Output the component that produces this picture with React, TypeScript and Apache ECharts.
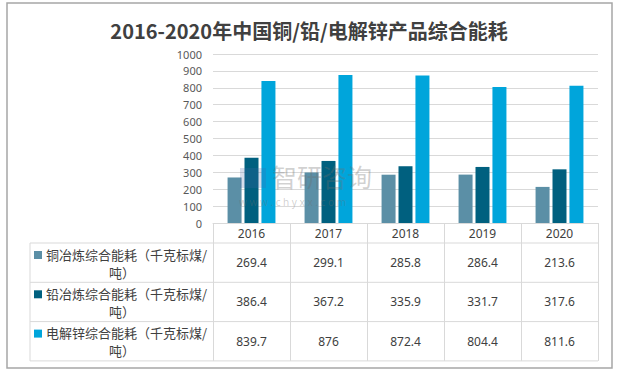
import React, { useEffect, useRef } from "react";
import * as echarts from "echarts";

const titleText = "2016-2020年中国铜/铅/电解锌产品综合能耗";
const categories = ["2016", "2017", "2018", "2019", "2020"];
const seriesNames = [
  "铜冶炼综合能耗（千克标煤/吨）",
  "铅冶炼综合能耗（千克标煤/吨）",
  "电解锌综合能耗（千克标煤/吨）",
];
const copperValues = [269.4, 299.1, 285.8, 286.4, 213.6];
const leadValues = [386.4, 367.2, 335.9, 331.7, 317.6];
const zincValues = [839.7, 876, 872.4, 804.4, 811.6];
const colors = ["#5B8FA6", "#00607F", "#00A5DB"];

const allValues = [copperValues, leadValues, zincValues];

export default function App() {
  const ref = useRef<HTMLDivElement>(null);
  useEffect(() => {
    if (!ref.current) return;
    const chart = echarts.init(ref.current, null, { renderer: "svg" });
    const gridTop = 54;
    const gridBottom = 148;
    const gridLeft = 213;
    const gridRight = 20;
    const H = 371;
    const axisY = H - gridBottom;
    const headerH = 20;
    const rowH = 39.3;
    const tableLeft = 30;
    const tableRight = 618 - gridRight;
    const lineColor = "#D9D9D9";
    const cjk = "Noto Sans CJK SC";
    const latin = "Noto Sans";

    chart.setOption({
      animation: false,
      title: {
        text: titleText,
        left: "center",
        top: 15,
        textStyle: {
          fontSize: 20,
          fontWeight: "bold",
          color: "#404040",
          fontFamily: cjk,
        },
      },
      grid: { top: gridTop, bottom: gridBottom, left: gridLeft, right: gridRight },
      xAxis: {
        type: "category",
        data: categories,
        axisLine: { lineStyle: { color: lineColor } },
        axisTick: {
          show: true,
          interval: 0,
          length: headerH + rowH * 3,
          lineStyle: { color: lineColor },
        },
        axisLabel: {
          margin: 4,
          fontSize: 12,
          color: "#404040",
          fontFamily: latin,
        },
      },
      yAxis: {
        type: "value",
        min: 0,
        max: 1000,
        interval: 100,
        axisLine: { show: false },
        axisTick: { show: false },
        axisLabel: {
          fontSize: 11,
          color: "#595959",
          margin: 11,
          fontFamily: latin,
          formatter: (v: number) => String(v),
        },
        splitLine: { lineStyle: { color: lineColor } },
      },
      series: allValues.map((vals, i) => ({
        type: "bar",
        name: seriesNames[i],
        data: vals,
        barWidth: 14,
        barGap: "21%",
        itemStyle: { color: colors[i] },
      })),
    });

    const xs = categories.map((_, i) => chart.convertToPixel({ xAxisIndex: 0 }, i) as number);
    const graphics: any[] = [];
    graphics.push({
      type: "rect",
      shape: { x: 7, y: 3, width: 605, height: 365 },
      style: { fill: "none", stroke: "#A6A6A6", lineWidth: 1.5 },
      z: 0,
    });
    for (let r = 0; r <= 3; r++) {
      const y = axisY + headerH + rowH * r;
      graphics.push({
        type: "line",
        shape: { x1: tableLeft, y1: y, x2: tableRight, y2: y },
        style: { stroke: lineColor, lineWidth: 1 },
      });
    }
    graphics.push({
      type: "line",
      shape: { x1: tableLeft, y1: axisY + headerH, x2: tableLeft, y2: axisY + headerH + rowH * 3 },
      style: { stroke: lineColor, lineWidth: 1 },
    });
    allValues.forEach((vals, r) => {
      const rowTop = axisY + headerH + rowH * r;
      const name = seriesNames[r];
      const line1 = name.slice(0, name.length - 2);
      const line2 = name.slice(name.length - 2);
      graphics.push({
        type: "rect",
        shape: { x: 34, y: rowTop + 8, width: 8, height: 8 },
        style: { fill: colors[r] },
      });
      graphics.push({
        type: "text",
        x: 46,
        y: rowTop + 11,
        style: {
          text: line1,
          fontSize: 13,
          fill: "#404040",
          align: "left",
          verticalAlign: "middle",
          fontFamily: cjk,
        },
      });
      graphics.push({
        type: "text",
        x: 122,
        y: rowTop + 29,
        style: {
          text: line2,
          fontSize: 13,
          fill: "#404040",
          align: "center",
          verticalAlign: "middle",
          fontFamily: cjk,
        },
      });
      vals.forEach((v, i) => {
        graphics.push({
          type: "text",
          x: xs[i],
          y: rowTop + rowH / 2,
          style: {
            text: String(v),
            fontSize: 12,
            fill: "#404040",
            align: "center",
            verticalAlign: "middle",
            fontFamily: latin,
          },
        });
      });
    });
    graphics.push({
      type: "rect",
      shape: { x: 240, y: 168, width: 26, height: 20 },
      style: { fill: "rgba(70,100,170,0.22)" },
      z: 100,
    });
    graphics.push({
      type: "text",
      x: 272,
      y: 176,
      style: {
        text: "智研咨询",
        fontSize: 25,
        fill: "rgba(110,110,110,0.32)",
        align: "left",
        verticalAlign: "middle",
        fontFamily: cjk,
      },
      z: 100,
    });
    graphics.push({
      type: "text",
      x: 239,
      y: 202,
      style: {
        text: "w w w . c h y x x . c o m",
        fontSize: 10,
        fill: "rgba(110,110,110,0.32)",
        align: "left",
        verticalAlign: "middle",
        fontFamily: latin,
      },
      z: 100,
    });
    chart.setOption({ graphic: graphics });

    return () => chart.dispose();
  }, []);
  return (
    <div
      ref={ref}
      style={{ position: "fixed", left: 0, top: 0, width: 618, height: 371, background: "#fff" }}
    />
  );
}
